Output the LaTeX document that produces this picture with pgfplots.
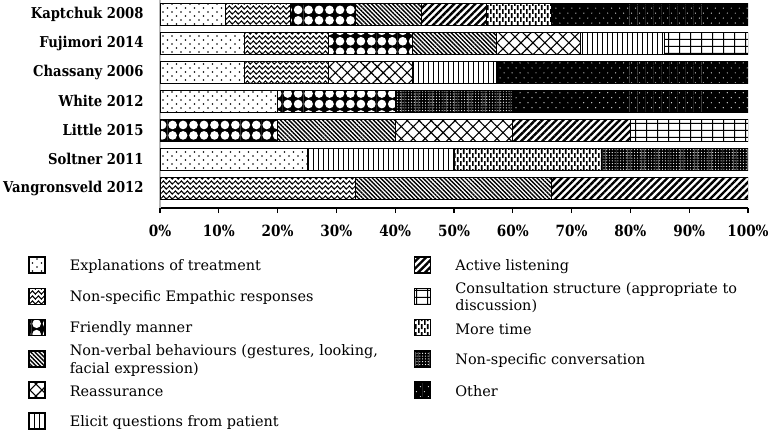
\documentclass[border=0pt]{standalone}
\usepackage{fontspec}
\setmainfont{DejaVu Serif}
\newfontfamily\labelfont{DejaVu Serif}[FakeStretch=0.88]
\usepackage{pgfplots}
\pgfplotsset{compat=1.18}
\usetikzlibrary{patterns,patterns.meta}

\tikzdeclarepattern{name=explpat, type=uncolored,
  bottom left={(0pt,0pt)}, top right={(9pt,8pt)}, tile size={(9pt,8pt)},
  code={\tikzset{x=1pt,y=1pt}\fill (2,2) circle (0.85); \fill (6.5,6) circle (0.85);}}
\tikzdeclarepattern{name=wavypat, type=uncolored,
  bottom left={(0pt,0pt)}, top right={(6.3pt,5pt)}, tile size={(6.3pt,5pt)},
  code={\tikzset{x=1pt,y=1pt}\draw[line width=1.15pt] (-0.05,2.5) sin (1.575,4.1) cos (3.15,2.5) sin (4.725,0.9) cos (6.35,2.5);}}
\tikzdeclarepattern{name=friendpat, type=colored,
  bottom left={(-0.1pt,-0.1pt)}, top right={(10.6pt,10.6pt)}, tile size={(10.5pt,10.5pt)},
  code={\tikzset{x=1pt,y=1pt}\fill[black] (-0.2,-0.2) rectangle (10.7,10.7); \fill[white] (5.25,5.25) circle (4.35);}}
\tikzdeclarepattern{name=gridpat, type=uncolored,
  bottom left={(0pt,0pt)}, top right={(11pt,7pt)}, tile size={(11pt,7pt)},
  code={\tikzset{x=1pt,y=1pt}\fill (0,0) rectangle (1.1,7); \fill (0,0) rectangle (11,1.1);}}
\tikzdeclarepattern{name=timepat, type=uncolored,
  bottom left={(0pt,0pt)}, top right={(6pt,8pt)}, tile size={(6pt,8pt)},
  code={\tikzset{x=1pt,y=1pt}\fill (0,0) rectangle (1.6,5); \fill (3,4) rectangle (4.6,8); \fill (3,0) rectangle (4.6,1);}}
\tikzdeclarepattern{name=convpat, type=colored,
  bottom left={(-0.05pt,-0.05pt)}, top right={(2.85pt,2.85pt)}, tile size={(2.8pt,2.8pt)},
  code={\tikzset{x=1pt,y=1pt}\fill[black] (-0.1,-0.1) rectangle (2.9,2.9); \fill[white] (1.4,1.4) circle (0.6);}}
\tikzdeclarepattern{name=otherpat, type=colored,
  bottom left={(-0.1pt,-0.1pt)}, top right={(8.1pt,10.1pt)}, tile size={(8pt,10pt)},
  code={\tikzset{x=1pt,y=1pt}\fill[black] (-0.2,-0.2) rectangle (8.2,10.2); \fill[white] (2,2.5) circle (0.6); \fill[white] (6,7.5) circle (0.6);}}

\newcommand{\legtext}[1]{\parbox[c][30bp][c]{320bp}{\fontsize{14.5}{17.5}\selectfont #1}}

\begin{document}
\begin{tikzpicture}
\path[use as bounding box] (0,0) rectangle (768bp,444bp);
\begin{axis}[
  at={(160bp,236bp)}, anchor=south west,
  scale only axis, width=588bp, height=208bp,
  xbar stacked, bar width=22bp,
  xmin=0, xmax=100, ymin=-0.69, ymax=6.5,
  xtick={0,10,...,100},
  xticklabel={\pgfmathprintnumber{\tick}\%},
  /pgf/number format/assume math mode=true,
  ytick={0,...,6},
  yticklabels={Vangronsveld 2012,Soltner 2011,Little 2015,White 2012,Chassany 2006,Fujimori 2014,Kaptchuk 2008},
  axis x line*=bottom, axis y line*=left,
  x axis line style={black, line width=1.2bp, -},
  y axis line style={gray!55, line width=1.8bp, -},
  tick align=outside, major tick length=5bp,
  xtick style={black, line width=1.2bp},
  ytick style={draw=none},
  yticklabel style={font=\labelfont\bfseries\fontsize{15}{17}\selectfont, xshift=-8bp},
  xticklabel style={font=\labelfont\bfseries\fontsize{15.5}{17}\selectfont, yshift=-9bp},
  legend style={at={(axis description cs:-0.2245,-0.199)}, anchor=north west, draw=none, fill=none, inner sep=0pt, column sep=24bp, row sep=0bp,
    nodes={inner sep=0pt}},
  legend columns=6, transpose legend,
  legend cell align=left,
  legend image code/.code={\pgfpathrectangle{\pgfpoint{0bp}{-19.6bp}}{\pgfpoint{16bp}{31.2bp}}\pgfusepath{discard}\draw[#1, line width=1.6bp] (0bp,-12bp) rectangle (16bp,4bp);},
]
\addplot[draw=black, line width=1bp, pattern=explpat] coordinates {(0,0) (25,1) (0,2) (20,3) (14.29,4) (14.29,5) (11.11,6)};
\addlegendentry{\legtext{Explanations of treatment}}
\addplot[draw=black, line width=1bp, pattern=wavypat] coordinates {(33.33,0) (0,1) (0,2) (0,3) (14.29,4) (14.29,5) (11.11,6)};
\addlegendentry{\legtext{Non-specific Empathic responses}}
\addplot[draw=black, line width=1bp, pattern=friendpat] coordinates {(0,0) (0,1) (20,2) (20,3) (0,4) (14.29,5) (11.11,6)};
\addlegendentry{\legtext{Friendly manner}}
\addplot[draw=black, line width=1bp, pattern={Lines[angle=-45,distance=3pt,line width=1.4pt]}] coordinates {(33.33,0) (0,1) (20,2) (0,3) (0,4) (14.29,5) (11.11,6)};
\addlegendentry{\legtext{Non-verbal behaviours (gestures, looking,\\ facial expression)}}
\addplot[draw=black, line width=1bp, pattern={Hatch[angle=45,distance=8.5pt,line width=1.1pt]}] coordinates {(0,0) (0,1) (20,2) (0,3) (14.29,4) (14.29,5) (0,6)};
\addlegendentry{\legtext{Reassurance}}
\addplot[draw=black, line width=1bp, pattern={Lines[angle=90,distance=5pt,line width=1.2pt]}] coordinates {(0,0) (25,1) (0,2) (0,3) (14.29,4) (14.29,5) (0,6)};
\addlegendentry{\legtext{Elicit questions from patient}}
\addplot[draw=black, line width=1bp, pattern={Lines[angle=45,distance=5pt,line width=2.4pt]}] coordinates {(33.34,0) (0,1) (20,2) (0,3) (0,4) (0,5) (11.11,6)};
\addlegendentry{\legtext{Active listening}}
\addplot[draw=black, line width=1bp, pattern=gridpat] coordinates {(0,0) (0,1) (20,2) (0,3) (0,4) (14.26,5) (0,6)};
\addlegendentry{\legtext{Consultation structure (appropriate to\\ discussion)}}
\addplot[draw=black, line width=1bp, pattern=timepat] coordinates {(0,0) (25,1) (0,2) (0,3) (0,4) (0,5) (11.11,6)};
\addlegendentry{\legtext{More time}}
\addplot[draw=black, line width=1bp, pattern=convpat] coordinates {(0,0) (25,1) (0,2) (20,3) (0,4) (0,5) (0,6)};
\addlegendentry{\legtext{Non-specific conversation}}
\addplot[draw=black, line width=1bp, pattern=otherpat] coordinates {(0,0) (0,1) (0,2) (40,3) (42.84,4) (0,5) (33.34,6)};
\addlegendentry{\legtext{Other}}
\end{axis}
\end{tikzpicture}
\end{document}
